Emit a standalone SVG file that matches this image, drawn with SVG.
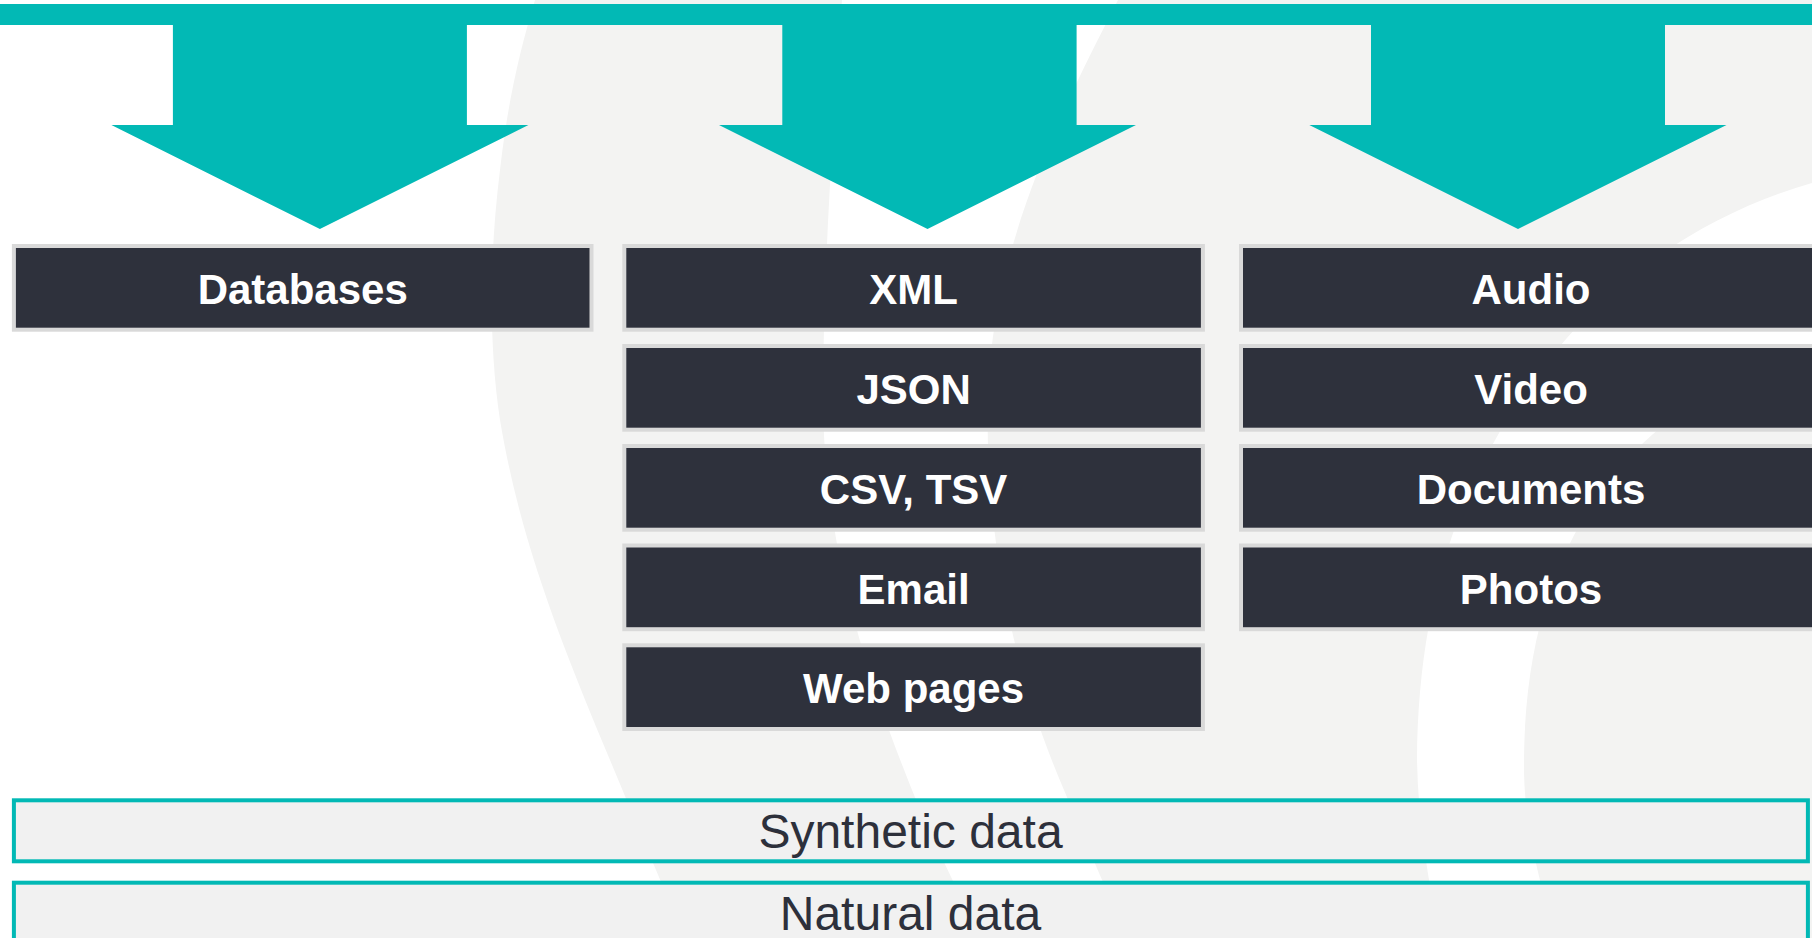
<svg xmlns="http://www.w3.org/2000/svg" width="1812" height="938" viewBox="0 0 1812 938">
<style>
.arrow{fill:#02b9b5}
.box{fill:#2e313c;stroke:#d9d9d9;stroke-width:4}
.boxshade{fill:#8b8e96}
.lbl{font-family:"Liberation Sans",Arial,sans-serif;font-weight:bold;font-size:42px;fill:#ffffff;text-anchor:middle}
.layer{fill:#f1f1f1;stroke:#02b9b5;stroke-width:4}
.llbl{font-family:"Liberation Sans",Arial,sans-serif;font-size:48px;fill:#2d303b;text-anchor:middle}
</style>
<g id="background">
<rect x="0" y="0" width="1812" height="938" fill="#ffffff"/>
<path d="M 535,0 L 1812,0 L 1812,938 L 685,938 C 660,880 635,820 610,760 C 560,640 520,540 500,420 C 488,340 490,250 500,170 C 508,100 520,50 535,0 Z" fill="#f3f3f2"/>
<path d="M 842,0 L 1118,0 C 1062,110 995,240 988,390 C 984,520 1008,660 1064,790 C 1085,840 1108,895 1128,938 L 980,938 C 958,890 932,840 912,790 C 860,660 822,530 823,390 C 824,250 834,120 842,0 Z" fill="#ffffff"/>
<path d="M 1812,183 C 1700,215 1600,285 1530,385 C 1455,490 1418,610 1417,760 C 1418,820 1428,880 1440,938 L 1555,938 C 1542,885 1523,830 1524,760 C 1525,660 1545,575 1595,500 C 1645,425 1720,378 1812,350 Z" fill="#ffffff"/>
</g>
<g id="connectors">
<rect id="topbar" class="arrow" x="0" y="4" width="1812" height="21"/>
<polygon class="arrow" points="172.9,24 466.9,24 466.9,125 528.4,125 319.9,229 111.4,125 172.9,125"/>
<polygon class="arrow" points="782.3,24 1076.6,24 1076.6,125 1136,125 927.5,229 719,125 782.3,125"/>
<polygon class="arrow" points="1371,24 1665,24 1665,125 1726.5,125 1518,229 1309.3,125 1371,125"/>
</g>
<g id="n-databases"><rect class="box" x="13.9" y="246" width="577.6" height="83.7"/><text class="lbl" x="302.7" y="304">Databases</text></g>
<g id="n-xml"><rect class="box" x="624.3" y="246" width="578.6" height="83.7"/><text class="lbl" x="913.6" y="304">XML</text></g>
<g id="n-json"><rect class="box" x="624.3" y="346" width="578.6" height="83.7"/><text class="lbl" x="913.6" y="404">JSON</text></g>
<g id="n-csv"><rect class="box" x="624.3" y="446" width="578.6" height="83.7"/><text class="lbl" x="913.6" y="504">CSV, TSV</text></g>
<g id="n-email"><rect class="box" x="624.3" y="545.5" width="578.6" height="83.7"/><text class="lbl" x="913.6" y="603.5">Email</text></g>
<g id="n-web"><rect class="box" x="624.3" y="645.3" width="578.6" height="83.7"/><text class="lbl" x="913.6" y="703.3">Web pages</text></g>
<g id="n-audio"><rect class="box" x="1241" y="246" width="580" height="83.7"/><text class="lbl" x="1531" y="304">Audio</text></g>
<g id="n-video"><rect class="box" x="1241" y="346" width="580" height="83.7"/><text class="lbl" x="1531" y="404">Video</text></g>
<g id="n-documents"><rect class="box" x="1241" y="446" width="580" height="83.7"/><text class="lbl" x="1531" y="504">Documents</text></g>
<g id="n-photos"><rect class="box" x="1241" y="545.5" width="580" height="83.7"/><text class="lbl" x="1531" y="603.5">Photos</text></g>
<g id="n-synthetic"><rect class="layer" x="13.9" y="800.3" width="1794" height="61"/><text class="llbl" x="910.5" y="848">Synthetic data</text></g>
<g id="n-natural"><rect class="layer" x="13.9" y="882.7" width="1794" height="80"/><text class="llbl" x="910.5" y="930">Natural data</text></g>
</svg>
